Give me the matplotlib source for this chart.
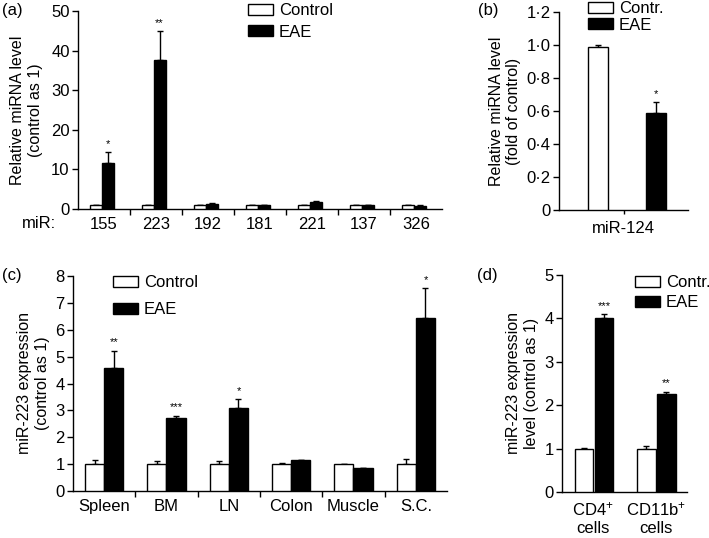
import matplotlib
matplotlib.use("Agg")
import matplotlib.pyplot as plt
from matplotlib.patches import Patch
import numpy as np

plt.rcParams['font.family'] = ['Liberation Sans', 'DejaVu Sans']
plt.rcParams['font.size'] = 12
plt.rcParams['mathtext.default'] = 'regular'

FS = 12      # tick labels, legends, panel letters
LFS = 11.5   # axis labels

# ---- data ----
a_labels = ['155', '223', '192', '181', '221', '137', '326']
a_ctrl = [1.0, 1.0, 1.0, 1.0, 1.0, 1.0, 1.0]
a_ctrl_err = [0.1, 0.1, 0.1, 0.1, 0.1, 0.1, 0.1]
a_eae = [11.6, 37.6, 1.3, 0.9, 1.8, 1.0, 0.8]
a_eae_err = [2.8, 7.4, 0.1, 0.1, 0.2, 0.1, 0.1]
a_sig = ['*', '**', '', '', '', '', '']

b_labels = ['miR-124']
b_ctrl = [0.99]
b_ctrl_err = [0.01]
b_eae = [0.59]
b_eae_err = [0.065]
b_sig = ['*']

c_labels = ['Spleen', 'BM', 'LN', 'Colon', 'Muscle', 'S.C.']
c_ctrl = [1.0, 1.0, 1.0, 1.0, 1.0, 1.0]
c_ctrl_err = [0.15, 0.1, 0.1, 0.04, 0.0, 0.2]
c_eae = [4.57, 2.7, 3.1, 1.15, 0.85, 6.42]
c_eae_err = [0.65, 0.1, 0.32, 0.0, 0.0, 1.13]
c_sig = ['**', '***', '*', '', '', '*']

d_labels = ['CD4$^{+}$\ncells', 'CD11b$^{+}$\ncells']
d_ctrl = [1.0, 1.0]
d_ctrl_err = [0.01, 0.05]
d_eae = [4.0, 2.25]
d_eae_err = [0.1, 0.06]
d_sig = ['***', '**']

W, H = 709, 538
fig = plt.figure(figsize=(W / 100, H / 100), dpi=100)


def ax_px(l, r, b, t):
    return fig.add_axes([l / W, 1 - b / H, (r - l) / W, (b - t) / H])


def style(ax):
    for s in ['top', 'right']:
        ax.spines[s].set_visible(False)
    for s in ['left', 'bottom']:
        ax.spines[s].set_linewidth(1.0)
    ax.tick_params(axis='y', direction='out', length=4, width=1.0, labelsize=FS, pad=2)


def bars(ax, x, ctrl, cerr, eae, eerr, sig, w, off_c, off_e, sfs=8):
    x = np.asarray(x, dtype=float)
    ax.bar(x + off_c, ctrl, w, color='white', edgecolor='black', linewidth=1.0, zorder=3)
    ax.bar(x + off_e, eae, w, color='black', edgecolor='black', linewidth=1.0, zorder=3)
    ax.errorbar(x + off_c, ctrl, yerr=[np.zeros(len(ctrl)), cerr], fmt='none',
                ecolor='black', elinewidth=1.0, capsize=2.5, capthick=1.0, zorder=2)
    ax.errorbar(x + off_e, eae, yerr=[np.zeros(len(eae)), eerr], fmt='none',
                ecolor='black', elinewidth=1.0, capsize=2.5, capthick=1.0, zorder=2)
    ymax = ax.get_ylim()[1]
    for xi, v, e, s in zip(x, eae, eerr, sig):
        if s:
            ax.text(xi + off_e, v + e + ymax * 0.015, s, ha='center', va='bottom', fontsize=sfs)


def group_axis(ax, n, labels, sep_ticks=True):
    ax.set_xlim(-0.5, n - 0.5)
    ax.set_xticks(np.arange(n))
    ax.set_xticklabels(labels)
    ax.tick_params(axis='x', which='major', length=0, labelsize=FS, pad=6)
    if sep_ticks:
        ax.set_xticks(np.arange(n - 1) + 0.5, minor=True)
        ax.tick_params(axis='x', which='minor', direction='out', length=4, width=1.0)


def legend(ax, labels, x, y, spacing):
    handles = [Patch(facecolor='white', edgecolor='black', linewidth=1.0),
               Patch(facecolor='black', edgecolor='black', linewidth=1.0)]
    ax.legend(handles, labels, loc='upper left', bbox_to_anchor=(x, y),
              bbox_transform=fig.transFigure, frameon=False, fontsize=FS,
              handlelength=1.5, handleheight=0.65, handletextpad=0.35,
              labelspacing=spacing, borderpad=0, borderaxespad=0)


# ---- (a) ----
axa = ax_px(78, 442, 209, 11)
style(axa)
axa.set_ylim(0, 50)
axa.set_yticks([0, 10, 20, 30, 40, 50])
group_axis(axa, len(a_labels), a_labels)
bars(axa, np.arange(len(a_labels)), a_ctrl, a_ctrl_err, a_eae, a_eae_err, a_sig,
     0.23, -0.16, 0.07)
axa.set_ylabel('Relative miRNA level\n(control as 1)', fontsize=LFS, labelpad=6)
legend(axa, ['Control', 'EAE'], 248 / W, 1 - 3 / H, 0.4)
fig.text(39 / W, 1 - 216 / H, 'miR:', ha='center', va='top', fontsize=FS)

# ---- (b) ----
axb = ax_px(559, 688, 210, 12)
style(axb)
axb.set_ylim(0, 1.2)
axb.set_yticks([0, 0.2, 0.4, 0.6, 0.8, 1.0, 1.2])
axb.set_yticklabels(['0', '0\u00b72', '0\u00b74', '0\u00b76', '0\u00b78', '1\u00b70', '1\u00b72'])
axb.set_xlim(-1, 1)
axb.set_xticks([0])
axb.set_xticklabels(b_labels)
axb.tick_params(axis='x', direction='out', length=3, width=1.0, labelsize=FS, pad=5)
bars(axb, [0], b_ctrl, b_ctrl_err, b_eae, b_eae_err, b_sig, 0.31, -0.39, 0.51)
axb.set_ylabel('Relative miRNA level\n(fold of control)', fontsize=LFS, labelpad=4)
legend(axb, ['Contr.', 'EAE'], 588 / W, 1 - 1 / H, 0.1)

# ---- (c) ----
axc = ax_px(73, 447, 491, 276)
style(axc)
axc.set_ylim(0, 8)
axc.set_yticks(range(0, 9))
group_axis(axc, len(c_labels), c_labels)
bars(axc, np.arange(len(c_labels)), c_ctrl, c_ctrl_err, c_eae, c_eae_err, c_sig,
     0.31, -0.155, 0.155)
axc.set_ylabel('miR-223 expression\n(control as 1)', fontsize=LFS, labelpad=4)
legend(axc, ['Control', 'EAE'], 113 / W, 1 - 275 / H, 0.75)

# ---- (d) ----
axd = ax_px(562, 687, 492, 275)
style(axd)
axd.set_ylim(0, 5)
axd.set_yticks(range(0, 6))
group_axis(axd, len(d_labels), d_labels, sep_ticks=False)
bars(axd, np.arange(len(d_labels)), d_ctrl, d_ctrl_err, d_eae, d_eae_err, d_sig,
     0.3, -0.15, 0.17)
axd.set_ylabel('miR-223 expression\nlevel (control as 1)', fontsize=LFS, labelpad=4)
legend(axd, ['Contr.', 'EAE'], 635 / W, 1 - 275 / H, 0.3)

# panel labels
fig.text(2 / W, 1 - 3 / H, '(a)', ha='left', va='top', fontsize=FS)
fig.text(478 / W, 1 - 3 / H, '(b)', ha='left', va='top', fontsize=FS)
fig.text(2 / W, 1 - 268 / H, '(c)', ha='left', va='top', fontsize=FS)
fig.text(477 / W, 1 - 268 / H, '(d)', ha='left', va='top', fontsize=FS)

fig.savefig('out.png', dpi=100)
